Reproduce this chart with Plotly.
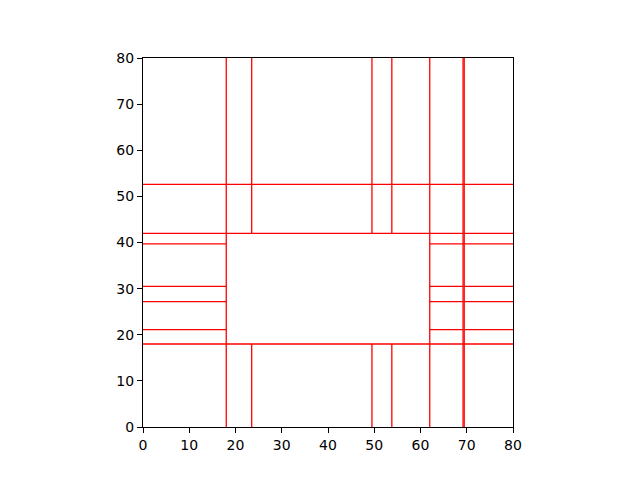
import plotly.graph_objects as go

# Vertical partition lines spanning the full height
full_x = [18.0, 62.0, 69.2, 69.45]
# Vertical lines interrupted by the central empty block
split_x = [23.5, 49.5, 53.8]
# Horizontal partition lines spanning the full width
full_y = [18.0, 42.0, 52.6]
# Horizontal lines interrupted by the central empty block
split_y = [21.1, 27.2, 30.5, 39.7]

domain = [0.0, 80.0]
block_x = [18.0, 62.0]
block_y = [18.0, 42.0]

xs, ys = [], []

def seg(x0, y0, x1, y1):
    xs.extend([x0, x1, None])
    ys.extend([y0, y1, None])

for x in full_x:
    seg(x, domain[0], x, domain[1])
for x in split_x:
    seg(x, domain[0], x, block_y[0])
    seg(x, block_y[1], x, domain[1])
for y in full_y:
    seg(domain[0], y, domain[1], y)
for y in split_y:
    seg(domain[0], y, block_x[0], y)
    seg(block_x[1], y, domain[1], y)

fig = go.Figure()
fig.add_trace(go.Scatter(x=xs, y=ys, mode="lines",
                         line=dict(color="red", width=1.3),
                         hoverinfo="skip", showlegend=False))

axis = dict(range=domain, dtick=10, tick0=0, showgrid=False, zeroline=False,
            showline=True, mirror=True, linecolor="black", linewidth=1,
            layer="above traces",
            ticks="outside", ticklen=5, tickwidth=1, tickcolor="black",
            tickfont=dict(family="DejaVu Sans", size=14, color="black"))

fig.update_layout(
    width=640, height=480,
    margin=dict(l=135, r=135, t=50, b=61),
    paper_bgcolor="white", plot_bgcolor="white",
    xaxis=axis, yaxis=dict(axis),
    showlegend=False,
)

fig.write_html("out.html")
